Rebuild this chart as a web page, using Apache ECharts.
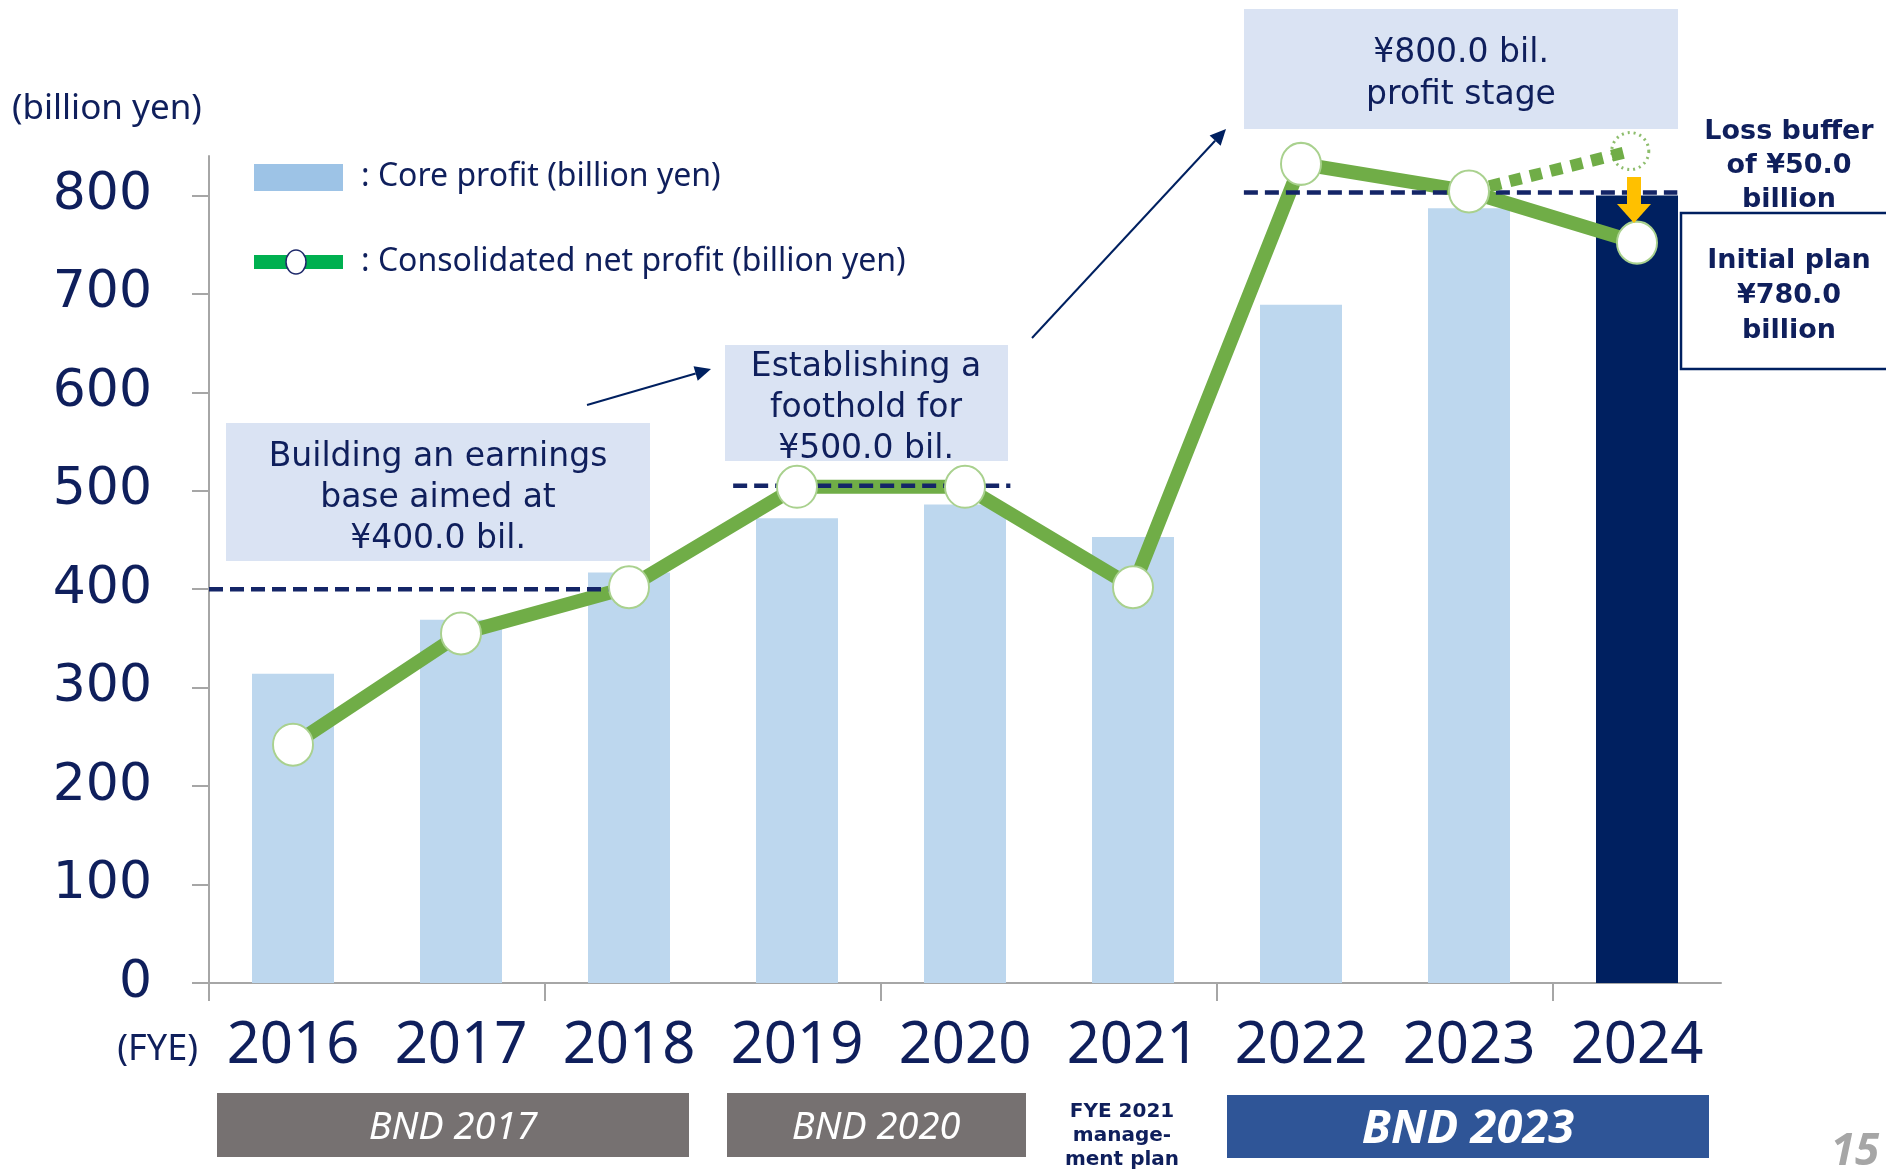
<!DOCTYPE html>
<html><head><meta charset="utf-8">
<script src="https://cdn.jsdelivr.net/npm/echarts@6/dist/echarts.min.js"></script>
<style>html,body{margin:0;padding:0;background:#fff}#chart{width:1886px;height:1169px}</style>
</head><body><div id="chart"></div>
<script>
// ---- data ----
const years = ['2016', '2017', '2018', '2019', '2020', '2021', '2022', '2023', '2024'];
const coreProfit = [314, 369, 417, 472, 486, 453, 689, 787, 800];
const netProfit = [242, 355, 402, 504, 504, 402, 832, 804, 752];
const ghostProfit = 845;          // dotted "before loss buffer" point for 2024
const yTicks = [0, 100, 200, 300, 400, 500, 600, 700, 800];
const targetLevels = [400, 505, 803];
const targetSpans = [[0, 2.6], [3.12, 4.77], [6.16, 8.74]]; // in category units
const xTickBoundaries = [0, 2, 4, 6, 8];                     // ticks every two years

const navy = '#0F1F5C';
const barBlue = '#BDD7EE';
const barNavy = '#002060';
const green = '#70AD47';
const boxFill = '#DAE3F3';
const noto = "'Noto Sans', sans-serif";
const dvs = "'DejaVu Sans', sans-serif";

function T(x, y, text, size, o) {
  o = o || {};
  return {
    type: 'text', x: x, y: y, z: 100,
    style: {
      text: text, fill: o.fill || navy,
      font: (o.italic ? 'italic ' : '') + (o.bold ? 'bold ' : '') + size + 'px ' + (o.family || dvs),
      textAlign: o.align || 'center', textVerticalAlign: 'middle',
      lineHeight: o.lh || Math.round(size * 1.2)
    }
  };
}
function R(x, y, w, h, fill, stroke, lw) {
  return { type: 'rect', z: 90, shape: { x: x, y: y, width: w, height: h },
    style: { fill: fill, stroke: stroke || null, lineWidth: lw || 0 } };
}
function arrow(x1, y1, x2, y2, color, w, hl, hw) {
  const a = Math.atan2(y2 - y1, x2 - x1);
  const bx = x2 - hl * Math.cos(a), by = y2 - hl * Math.sin(a);
  const px = -Math.sin(a) * hw / 2, py = Math.cos(a) * hw / 2;
  return [
    { type: 'line', z: 95, shape: { x1: x1, y1: y1, x2: bx, y2: by }, style: { stroke: color, lineWidth: w } },
    { type: 'polygon', z: 95, shape: { points: [[x2, y2], [bx + px, by + py], [bx - px, by - py]] }, style: { fill: color } }
  ];
}

const graphics = [].concat(
  [
    T(12, 109, '(billion yen)', 35, { family: noto, align: 'left' }),
    // legend
    R(254, 164, 89, 27, '#9DC3E6'),
    T(361, 177, ': Core profit (billion yen)', 32, { family: noto, align: 'left' }),
    R(254, 255, 89, 14, '#00B050'),
    { type: 'ellipse', z: 92, shape: { cx: 296, cy: 262, rx: 10, ry: 12 }, style: { fill: '#fff', stroke: '#1F2A6B', lineWidth: 1.5 } },
    T(361, 262, ': Consolidated net profit (billion yen)', 32, { family: noto, align: 'left' }),
    // annotation boxes
    R(226, 423, 424, 138, boxFill),
    T(438, 498, 'Building an earnings\nbase aimed at\n¥400.0 bil.', 33, { lh: 41 }),
    R(725, 345, 283, 116, boxFill),
    T(866, 408, 'Establishing a\nfoothold for\n¥500.0 bil.', 33, { lh: 41 }),
    R(1244, 9, 434, 120, boxFill),
    T(1461, 74, '¥800.0 bil.\nprofit stage', 33, { lh: 42 }),
    R(1681, 213, 240, 156, '#fff', barNavy, 2.5),
    T(1789, 166, 'Loss buffer\nof ¥50.0\nbillion', 27, { bold: true, lh: 34 }),
    T(1789, 296, 'Initial plan\n¥780.0\nbillion', 27, { bold: true, lh: 35 }),
    // x-axis side label
    T(198, 1050, '(FYE)', 36, { family: noto, align: 'right' }),
    // plan period bars
    R(217, 1093, 472, 64, '#767171'),
    T(453, 1128, 'BND 2017', 38, { family: noto, italic: true, fill: '#fff' }),
    R(727, 1093, 299, 64, '#767171'),
    T(876, 1128, 'BND 2020', 38, { family: noto, italic: true, fill: '#fff' }),
    T(1122, 1136, 'FYE 2021\nmanage-\nment plan', 20, { bold: true, lh: 24 }),
    R(1227, 1095, 482, 63, '#2F5597'),
    T(1468, 1130, 'BND 2023', 47, { family: noto, italic: true, bold: true, fill: '#fff' }),
    T(1855, 1152, '15', 44, { family: noto, italic: true, bold: true, fill: '#A6A6A6' })
  ],
  arrow(587, 405, 711, 369, barNavy, 2, 16, 15),
  arrow(1032, 338, 1226, 129, barNavy, 2, 16, 15),
  arrow(1634, 177, 1634, 223, '#FFC000', 14, 19, 34)
);

const targetSeries = targetLevels.map(function (v, i) {
  return {
    type: 'line', xAxisIndex: 1, yAxisIndex: 0, z: 4, symbol: 'none', silent: true, clip: false,
    data: [[targetSpans[i][0], v], [targetSpans[i][1], v]],
    lineStyle: { color: '#142567', width: 4.5, type: [14, 7] }
  };
});

const option = {
  animation: false,
  backgroundColor: '#fff',
  grid: { left: 209, right: 165, top: 156, bottom: 186 },
  xAxis: [
    {
      type: 'category', data: years, boundaryGap: true,
      axisLine: { lineStyle: { color: '#A6A6A6', width: 2 } },
      axisTick: { show: false },
      axisLabel: { interval: 0, margin: 34, fontSize: 58, fontFamily: 'Noto Sans', color: navy }
    },
    {
      type: 'value', min: 0, max: 9, position: 'bottom',
      axisLine: { show: false },
      axisTick: { show: true, length: 18, customValues: xTickBoundaries, lineStyle: { color: '#A6A6A6', width: 2 } },
      axisLabel: { show: false },
      splitLine: { show: false }
    }
  ],
  yAxis: {
    type: 'value', min: 0, max: 840, interval: 100,
    axisLine: { show: true, lineStyle: { color: '#A6A6A6', width: 2 } },
    axisTick: { show: true, length: 17, customValues: yTicks, lineStyle: { color: '#A6A6A6', width: 2 } },
    axisLabel: { customValues: yTicks, margin: 57, fontSize: 52, fontFamily: 'DejaVu Sans', color: navy },
    splitLine: { show: false }
  },
  series: [
    {
      name: 'Core profit', type: 'bar', data: coreProfit, barWidth: 82, z: 2,
      itemStyle: { color: function (p) { return p.dataIndex === years.length - 1 ? barNavy : barBlue; } }
    },
    {
      name: 'Consolidated net profit', type: 'line', data: netProfit, symbol: 'none', z: 3, clip: false,
      lineStyle: { color: green, width: 14 }
    }
  ].concat(targetSeries).concat([
    {
      type: 'line', xAxisIndex: 1, z: 5, symbol: 'none', clip: false, silent: true,
      data: [[7.5, netProfit[7]], [8.46, ghostProfit]],
      lineStyle: { color: green, width: 12, type: [12, 9] }
    },
    {
      name: 'markers', type: 'scatter', data: netProfit, z: 6, clip: false, symbol: 'circle', symbolSize: [40, 42],
      itemStyle: { color: '#fff', borderColor: '#A9D18E', borderWidth: 2, opacity: 1 }
    },
    {
      type: 'scatter', xAxisIndex: 1, z: 6, clip: false, symbol: 'circle', symbolSize: 37,
      data: [[8.46, ghostProfit]],
      itemStyle: { color: 'rgba(255,255,255,0)', borderColor: green, borderWidth: 3, borderType: [2, 4] }
    }
  ]),
  graphic: graphics
};

const chart = echarts.init(document.getElementById('chart'), null, { renderer: 'canvas' });
chart.setOption(option);
</script>
</body></html>
